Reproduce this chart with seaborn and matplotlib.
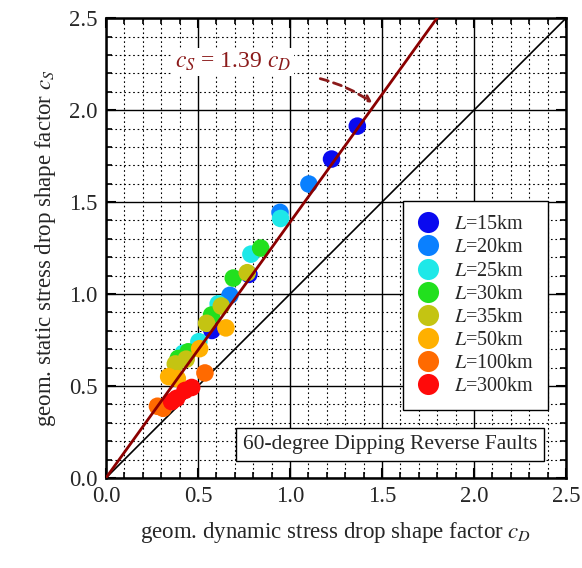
import numpy as np
import pandas as pd
import seaborn as sns
import matplotlib.pyplot as plt
from matplotlib.ticker import MultipleLocator


# data: (c_D, c_S) per fault length
labels = ["15", "20", "25", "30", "35", "50", "100", "300"]
colors = ["#0a0af0", "#0a80ff", "#1ee8e8", "#22e01e", "#c4c412", "#ffb000", "#ff6a00", "#ff0a0a"]

cd_15 = [1.366, 1.226, 0.777, 0.576]
cs_15 = [1.913, 1.734, 1.107, 0.802]
cd_20 = [1.103, 0.946, 0.674]
cs_20 = [1.598, 1.444, 0.993]
cd_25 = [0.949, 0.788, 0.610, 0.505, 0.420]
cs_25 = [1.411, 1.217, 0.947, 0.741, 0.678]
cd_30 = [0.841, 0.692, 0.574, 0.447, 0.393]
cs_30 = [1.250, 1.087, 0.886, 0.686, 0.650]
cd_35 = [0.768, 0.627, 0.547, 0.436, 0.377]
cs_35 = [1.116, 0.935, 0.841, 0.646, 0.620]
cd_50 = [0.652, 0.509, 0.341, 0.388]
cs_50 = [0.816, 0.703, 0.551, 0.540]
cd_100 = [0.538, 0.280, 0.311]
cs_100 = [0.571, 0.390, 0.379]
cd_300 = [0.466, 0.430, 0.384, 0.357]
cs_300 = [0.492, 0.476, 0.433, 0.415]

slope = 1.39

cd_all = [cd_15, cd_20, cd_25, cd_30, cd_35, cd_50, cd_100, cd_300]
cs_all = [cs_15, cs_20, cs_25, cs_30, cs_35, cs_50, cs_100, cs_300]

rows = []
for lab, xs, ys in zip(labels, cd_all, cs_all):
    for a, b in zip(xs, ys):
        rows.append({"cD": a, "cS": b, "L": f"$L$=" + lab + "km"})
df = pd.DataFrame(rows)
hue_order = [f"$L$=" + lab + "km" for lab in labels]
palette = dict(zip(hue_order, colors))

sns.set_style("ticks")
plt.rcParams["font.family"] = ["Liberation Serif", "DejaVu Serif"]
plt.rcParams["mathtext.fontset"] = "stix"

fig = plt.figure(figsize=(5.82, 5.68), dpi=100)
ax = fig.add_axes([0.182, 0.1585, 0.7905, 0.8095])

# grid
ax.xaxis.set_major_locator(MultipleLocator(0.5))
ax.yaxis.set_major_locator(MultipleLocator(0.5))
ax.xaxis.set_minor_locator(MultipleLocator(0.1))
ax.yaxis.set_minor_locator(MultipleLocator(0.1))
ax.grid(which="major", color="black", lw=1.0, ls="-")
ax.grid(which="minor", color="black", lw=0.8, ls=(0, (1.5, 2.5)))
ax.set_axisbelow(True)

line_x = np.array([0, 2.5])
ax.plot(line_x, line_x, color="black", lw=1.2, zorder=2)

sns.scatterplot(data=df, x="cD", y="cS", hue="L", hue_order=hue_order,
                palette=palette, s=160, edgecolor="none", ax=ax, zorder=3)
ax.plot(line_x, slope * line_x, color="#8b0000", lw=2.0, zorder=4)

ax.set_xlim(0, 2.5)
ax.set_ylim(0, 2.5)
ax.tick_params(which="both", direction="in", top=True, right=True, labelsize=16.5, color="black")
ax.tick_params(which="major", length=7, width=1.5, pad=6)
ax.tick_params(which="minor", length=4, width=1.2)
for s in ax.spines.values():
    s.set_linewidth(1.8)
    s.set_color("black")

ax.set_xlabel("geom. dynamic stress drop shape factor $c_D$", fontsize=16.5, labelpad=9)
ax.set_ylabel("geom. static stress drop shape factor $c_S$", fontsize=16.5, labelpad=8)

ax.text(0.69, 2.26, "$c_S$ = 1.39 $c_D$", color="#8b1a1a", fontsize=17, ha="center", va="center",
        bbox=dict(facecolor="white", edgecolor="none", pad=2), zorder=5)
ax.annotate("", xy=(1.46, 2.03), xytext=(1.15, 2.175),
            arrowprops=dict(arrowstyle="->", color="#8b1a1a", lw=2, ls=(0, (3, 2)),
                            connectionstyle="arc3,rad=-0.1"), zorder=5)

ax.text(1.543, 0.182, "60-degree Dipping Reverse Faults", fontsize=15.5, ha="center", va="center",
        bbox=dict(facecolor="white", edgecolor="black", lw=1, pad=5), zorder=5)

leg = ax.legend(loc="upper right", bbox_to_anchor=(0.961, 0.602), borderaxespad=0, fontsize=14.5,
                fancybox=False, framealpha=1, edgecolor="black", borderpad=0.7,
                handlelength=1.0, handletextpad=0.8, labelspacing=0.2, markerscale=1.2, title=None)
leg.get_frame().set_linewidth(1.0)

plt.savefig("out.png", dpi=100)
plt.close()
